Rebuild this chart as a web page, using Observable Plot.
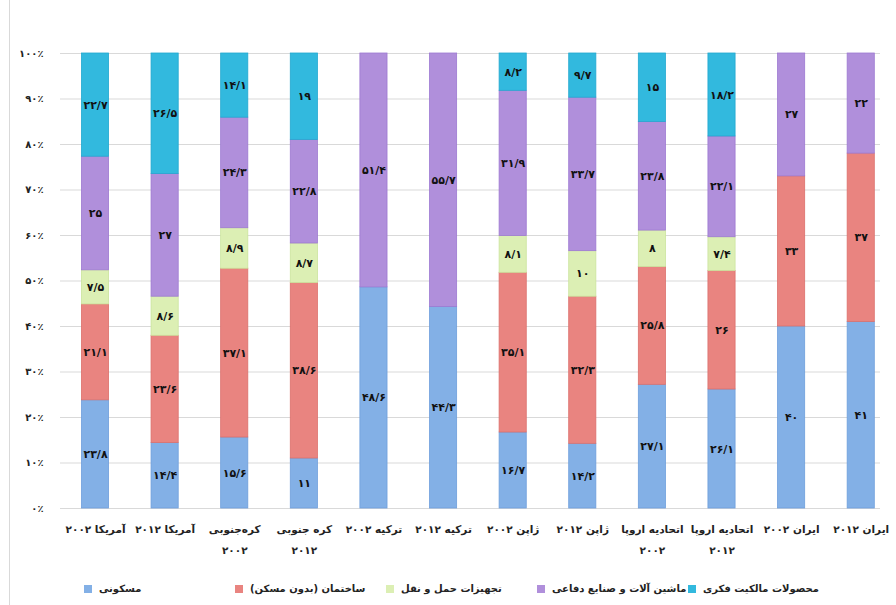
<!DOCTYPE html>
<html lang="fa">
<head>
<meta charset="utf-8">
<script src="https://cdn.jsdelivr.net/npm/d3@7"></script>
<script src="https://cdn.jsdelivr.net/npm/@observablehq/plot@0.6"></script>
<style>
  html, body { margin: 0; padding: 0; background: #fff; }
  #wrap { position: relative; width: 896px; height: 605px; overflow: hidden; font-family: "DejaVu Sans", sans-serif; }
  #wrap::before { content: ""; position: absolute; left: 9px; top: 0; bottom: 0; border-left: 1px solid #d9d9d9; }
  #legend { position: absolute; top: 583px; left: 0; width: 896px; height: 18px; }
  .item { position: absolute; top: 0; display: flex; align-items: center; gap: 7px; font-family: "DejaVu Sans", sans-serif; font-size: 10px; font-weight: bold; color: #222; white-space: nowrap; }
  .sw { width: 8px; height: 8px; display: inline-block; }
</style>
</head>
<body>
<div id="wrap">
  <div id="chart"></div>
  <div id="legend"></div>
</div>
<script>
const categories = ["آمریکا ۲۰۰۲", "آمریکا ۲۰۱۲", "کره‌جنوبی\n۲۰۰۲", "کره جنوبی\n۲۰۱۲", "ترکیه ۲۰۰۲", "ترکیه ۲۰۱۲", "ژاپن ۲۰۰۲", "ژاپن ۲۰۱۲", "اتحادیه اروپا\n۲۰۰۲", "اتحادیه اروپا\n۲۰۱۲", "ایران ۲۰۰۲", "ایران ۲۰۱۲"];
const series = ["مسکونی", "ساختمان (بدون مسکن)", "تجهیزات حمل و نقل", "ماشین آلات و صنایع دفاعی", "محصولات مالکیت فکری"];
const residential  = [23.8, 14.4, 15.6, 11,   48.6, 44.3, 16.7, 14.2, 27.1, 26.1, 40, 41];
const construction = [21.1, 23.6, 37.1, 38.6, 0,    0,    35.1, 32.3, 25.8, 26,   33, 37];
const transport    = [7.5,  8.6,  8.9,  8.7,  0,    0,    8.1,  10,   8,    7.4,  0,  0];
const machinery    = [25,   27,   24.3, 22.8, 51.4, 55.7, 31.9, 33.7, 23.8, 22.1, 27, 22];
const ip           = [22.7, 26.5, 14.1, 19,   0,    0,    8.2,  9.7,  15,   18.2, 0,  0];
const yTicks = [0, 0.1, 0.2, 0.3, 0.4, 0.5, 0.6, 0.7, 0.8, 0.9, 1];

const colors  = ["#83b0e6", "#e98480", "#dcefb4", "#b08fdb", "#32b9de"];
const strokes = ["#6f9fdc", "#dc706c", "#cbe49d", "#9d79d2", "#22a8d0"];

const valueSets = [residential, construction, transport, machinery, ip];
const data = [];
series.forEach((s, si) => {
  categories.forEach((c, ci) => {
    data.push({cat: c, series: s, value: valueSets[si][ci]});
  });
});

const faDigits = "۰۱۲۳۴۵۶۷۸۹";
const toFa = v => String(v).replace(/\d/g, d => faDigits[d]).replace(".", "/");

const chart = Plot.plot({
  width: 896,
  height: 560,
  marginTop: 53,
  marginBottom: 52,
  marginLeft: 60,
  marginRight: 16,
  style: {fontFamily: "DejaVu Sans, sans-serif", background: "#fff", overflow: "visible"},
  x: {domain: categories, paddingInner: 0.61, paddingOuter: 0.195, align: 0.79, round: false, label: null},
  y: {domain: [0, 1], label: null},
  color: {domain: series, range: colors},
  marks: [
    Plot.ruleY(yTicks, {stroke: "#d9d9d9", strokeWidth: 1}),
    Plot.barY(data, Plot.stackY({
      x: "cat", y: "value", z: "series", offset: "normalize",
      fill: "series",
      stroke: d => strokes[series.indexOf(d.series)],
      strokeWidth: 0.8
    })),
    Plot.text(data.filter(d => d.value > 0), Plot.stackY({
      x: "cat", y: "value", z: "series", offset: "normalize",
      text: d => toFa(d.value),
      fill: "#111", fontSize: 11, fontWeight: "bold"
    })),
    Plot.axisY({ticks: yTicks, tickSize: 0, tickPadding: 17, tickFormat: d => toFa(Math.round(d * 100)) + "٪", fontSize: 10, fontWeight: "bold", fill: "#222"}),
    Plot.axisX({tickSize: 0, tickPadding: 10, fontSize: 10.5, fontWeight: "bold", fill: "#222", lineHeight: 2})
  ]
});
document.getElementById("chart").appendChild(chart);

const legend = document.getElementById("legend");
series.forEach((s, i) => {
  const item = document.createElement("div");
  item.className = "item";
  item.style.left = (84 + i * 151) + "px";
  const sw = document.createElement("span");
  sw.className = "sw";
  sw.style.background = colors[i];
  const label = document.createElement("span");
  label.textContent = s;
  item.appendChild(sw);
  item.appendChild(label);
  legend.appendChild(item);
});
</script>
</body>
</html>
